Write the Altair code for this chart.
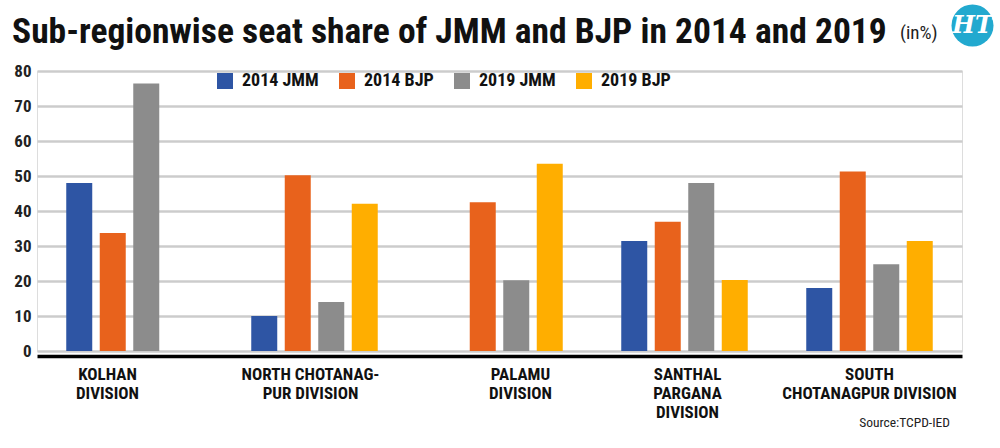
import altair as alt
import pandas as pd

categories = [
    "KOLHAN|DIVISION",
    "NORTH CHOTANAG-|PUR DIVISION",
    "PALAMU|DIVISION",
    "SANTHAL|PARGANA|DIVISION",
    "SOUTH|CHOTANAGPUR DIVISION",
]
series = ["2014 JMM", "2014 BJP", "2019 JMM", "2019 BJP"]
colors = ["#2E55A4", "#E8621C", "#8C8C8C", "#FFAE00"]

jmm_2014 = [48.0, 10.0, 0.0, 31.4, 18.0]
bjp_2014 = [33.7, 50.2, 42.5, 36.9, 51.3]
jmm_2019 = [76.4, 14.0, 20.2, 48.0, 24.8]
bjp_2019 = [0.0, 42.1, 53.5, 20.3, 31.4]

y_ticks = [0, 10, 20, 30, 40, 50, 60, 70, 80]

rows = []
for s, vals in zip(series, [jmm_2014, bjp_2014, jmm_2019, bjp_2019]):
    for c, v in zip(categories, vals):
        rows.append({"division": c, "series": s, "value": v})
df = pd.DataFrame(rows)

FONT = "Roboto Condensed"
W, H = 925, 280

# small horizontal nudges of the category labels, as in the original layout
label_nudge = {
    "KOLHAN|DIVISION": -22,
    "NORTH CHOTANAG-|PUR DIVISION": -4,
    "PALAMU|DIVISION": 21,
    "SANTHAL|PARGANA|DIVISION": 3,
}
label_offset = {
    "condition": [
        {"test": f"datum.value == '{k}'", "value": v} for k, v in label_nudge.items()
    ],
    "value": 0,
}

bars = (
    alt.Chart(df)
    .transform_filter("datum.value > 0")
    .mark_bar()
    .encode(
        x=alt.X(
            "division:N",
            sort=categories,
            scale=alt.Scale(paddingInner=0, paddingOuter=0),
            axis=alt.Axis(
                title=None,
                labelAngle=0,
                ticks=False,
                domainColor="#000000",
                domainWidth=3.5,
                offset=5,
                labelExpr="split(datum.label, '|')",
                labelFont=FONT,
                labelFontSize=17,
                labelFontWeight="bold",
                labelColor="#111111",
                labelBaseline="top",
                labelPadding=10,
                labelLineHeight=19,
                labelLimit=300,
                labelOffset=label_offset,
            ),
        ),
        xOffset=alt.XOffset(
            "series:N",
            sort=series,
            scale=alt.Scale(domain=series, paddingInner=0.224, paddingOuter=0.873),
        ),
        y=alt.Y(
            "value:Q",
            scale=alt.Scale(domain=[0, 80], nice=False),
            axis=alt.Axis(
                title=None,
                values=y_ticks,
                ticks=False,
                domain=False,
                gridColor="#CCCCCC",
                gridWidth=2.5,
                labelFont=FONT,
                labelFontSize=17,
                labelFontWeight="bold",
                labelColor="#222222",
                labelPadding=6,
            ),
        ),
        y2=alt.value(H + 4),
        color=alt.Color(
            "series:N",
            sort=series,
            scale=alt.Scale(domain=series, range=colors),
            legend=alt.Legend(
                title=None,
                orient="none",
                legendX=179,
                legendY=1,
                direction="horizontal",
                symbolType="square",
                symbolSize=256,
                symbolStrokeWidth=0,
                labelFont=FONT,
                labelFontSize=18,
                labelFontWeight="bold",
                labelColor="#111111",
                labelOffset=8,
                columnPadding=19,
            ),
        ),
    )
)

in_pct = (
    alt.Chart(pd.DataFrame({"t": ["(in%)"]}))
    .mark_text(font=FONT, fontSize=19, color="#222222", align="left", baseline="middle")
    .encode(x=alt.value(863), y=alt.value(-38), text="t:N")
)

logo_circle = (
    alt.Chart(pd.DataFrame({"t": ["HT"]}))
    .mark_point(filled=True, shape="circle", size=1764, color="#22A9CF", opacity=1)
    .encode(x=alt.value(935.5), y=alt.value(-45.5))
)
logo_text = (
    alt.Chart(pd.DataFrame({"t": ["HT"]}))
    .mark_text(font="DejaVu Serif", fontSize=24, fontWeight="bold", fontStyle="italic",
               color="#FFFFFF", align="center", baseline="middle")
    .encode(x=alt.value(935.5), y=alt.value(-45), text="t:N")
)

source = (
    alt.Chart(pd.DataFrame({"t": ["Source:TCPD-IED"]}))
    .mark_text(font=FONT, fontSize=13.5, color="#222222", align="right", baseline="middle")
    .encode(x=alt.value(913), y=alt.value(352), text="t:N")
)

chart = (
    alt.layer(bars, in_pct, logo_circle, logo_text, source)
    .properties(
        width=W,
        height=H,
        autosize=alt.AutoSizeParams(type="none"),
        padding={"left": 37, "top": 71, "right": 38, "bottom": 97},
        title=alt.Title(
            "Sub-regionwise seat share of JMM and BJP in 2014 and 2019",
            font=FONT,
            fontSize=35.5,
            fontWeight="bold",
            color="#111111",
            anchor="start",
            frame="group",
            dx=-25,
            dy=50,
        ),
    )
    .configure_view(stroke=None)
    .configure(background="white")
)

chart.save("out.html", embed_options={"renderer": "svg", "actions": False})
